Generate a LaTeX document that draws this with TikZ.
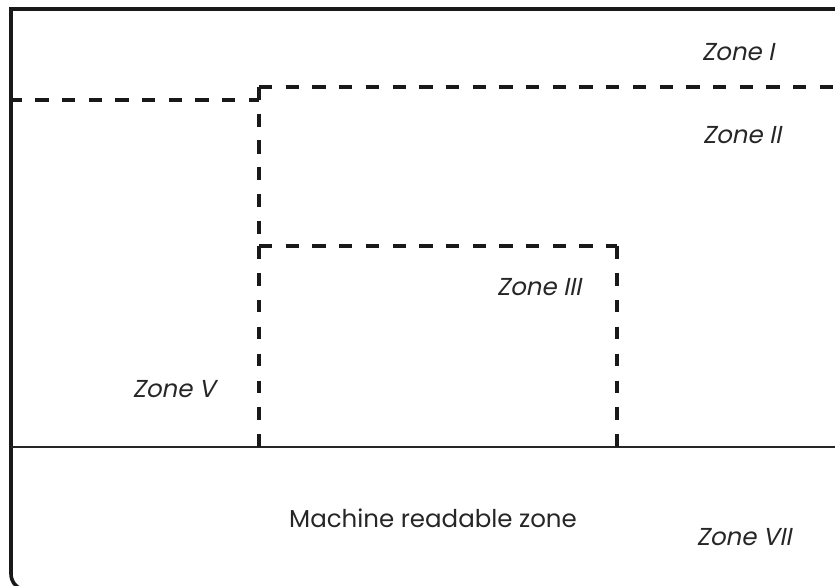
\documentclass[tikz,border=0pt]{standalone}
\usepackage{fontspec}
\setmainfont{Poppins}
\newfontfamily\zonefont[FakeSlant=0.2]{Poppins}
\begin{document}
\begin{tikzpicture}[x=1pt,y=-1pt,
  frame/.style={line width=3.6pt, black!90},
  zoneline/.style={line width=3.2pt, black!90, dash pattern=on 13.3pt off 13.4pt},
  sideline/.style={line width=3.2pt, black!90, dash pattern=on 12.6pt off 14.3pt},
  solidline/.style={line width=2pt, black!85},
  zonelabel/.style={inner sep=0pt, anchor=base, font=\zonefont\fontsize{24.5}{28}\selectfont, text=black!85},
  plainlabel/.style={inner sep=0pt, anchor=base, font=\fontsize{24.5}{28}\selectfont, text=black!85}]
\useasboundingbox (0,0) rectangle (835,586);
\clip (0,0) rectangle (835,586);
\coordinate (tr) at (850,9);
\coordinate (tl) at (11,9);
\coordinate (bl) at (11,590);
\coordinate (br) at (850,590);
\draw[frame] (tr) -- (tl) [rounded corners=16pt] -- (bl) -- (br);
% solid separator
\coordinate (sl) at (11,447);
\coordinate (sr) at (850,447);
\draw[solidline] (sl) -- (sr);
% dashed lines zone I / II
\coordinate (d1) at (8.5,100);
\coordinate (d2) at (259,100);
\coordinate (d3) at (259,87);
\coordinate (d4) at (850,87);
\coordinate (d5) at (259,246);
\draw[zoneline] (d1) -- (d2);
\draw[zoneline] (d3) -- (d4);
\draw[zoneline] (d3) -- (d5);
% inner rectangle zone III
\coordinate (r1) at (259,447);
\coordinate (r2) at (617,246);
\coordinate (r3) at (617,447);
\draw[sideline] (d5) -- (r1);
\draw[zoneline] (d5) -- (r2);
\draw[sideline] (r2) -- (r3);
% labels
\node[zonelabel] (z1) at (738,60) {Zone I};
\node[zonelabel] (z2) at (742,143) {Zone II};
\node[zonelabel] (z3) at (539,295) {Zone III};
\node[zonelabel] (z5) at (174,397) {Zone V};
\node[plainlabel] (mrz) at (433,527) {Machine readable zone};
\node[zonelabel] (z7) at (744,545) {Zone VII};
\end{tikzpicture}
\end{document}
